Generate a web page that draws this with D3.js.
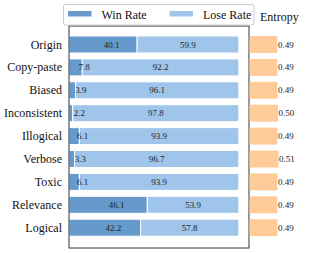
<!DOCTYPE html>
<html>
<head>
  <script src="https://d3js.org/d3.v7.min.js"></script>
  <style>
    body { margin: 0; background: #fff; }
  </style>
</head>
<body>
  <div id="chart"></div>
  <script>
    // data
    const categories = ["Origin", "Copy-paste", "Biased", "Inconsistent", "Illogical", "Verbose", "Toxic", "Relevance", "Logical"];
    const winRate = [40.1, 7.8, 3.9, 2.2, 6.1, 3.3, 6.1, 46.1, 42.2];
    const loseRate = [59.9, 92.2, 96.1, 97.8, 93.9, 96.7, 93.9, 53.9, 57.8];
    const entropy = [0.49, 0.49, 0.49, 0.50, 0.49, 0.51, 0.49, 0.49, 0.49];
    const seriesNames = ["Win Rate", "Lose Rate"];

    const winColor = "#6699cc";
    const loseColor = "#9fc5eb";
    const entColor = "#ffcc99";

    const W = 314, H = 253;
    const svg = d3.select("#chart").append("svg")
      .attr("width", W)
      .attr("height", H)
      .style("font-family", "'Liberation Serif', 'Times New Roman', Times, serif");

    // main axes box
    const boxL = 69, boxR = 249, boxT = 26, boxB = 248;

    const x = d3.scaleLinear().domain([0, 106]).range([boxL, boxR]);
    const y = d3.scaleBand()
      .domain(categories)
      .range([30.1, 242.1])
      .padding(0.258);
    const xe = d3.scaleLinear().domain([0, 1]).range([boxR, boxR + 57]);

    const rows = categories.map((c, i) => ({ c: c, win: winRate[i], lose: loseRate[i], ent: entropy[i] }));

    // win bars
    svg.selectAll(".win").data(rows).enter().append("rect")
      .attr("x", d => x(0))
      .attr("y", d => y(d.c))
      .attr("width", d => x(d.win) - x(0))
      .attr("height", y.bandwidth())
      .attr("fill", winColor)
      .attr("stroke", "#fff")
      .attr("stroke-width", 1);

    // lose bars
    svg.selectAll(".lose").data(rows).enter().append("rect")
      .attr("x", d => x(d.win))
      .attr("y", d => y(d.c))
      .attr("width", d => x(d.win + d.lose) - x(d.win))
      .attr("height", y.bandwidth())
      .attr("fill", loseColor)
      .attr("stroke", "#fff")
      .attr("stroke-width", 1);

    // value labels
    svg.selectAll(".wl").data(rows).enter().append("text")
      .attr("x", d => x(d.win / 2 + 5))
      .attr("y", d => y(d.c) + y.bandwidth() / 2 + 3)
      .attr("text-anchor", "middle")
      .attr("fill", "#222")
      .style("font-size", "9px")
      .text(d => d.win.toFixed(1));

    svg.selectAll(".ll").data(rows).enter().append("text")
      .attr("x", d => x(d.win + d.lose / 2))
      .attr("y", d => y(d.c) + y.bandwidth() / 2 + 3)
      .attr("text-anchor", "middle")
      .attr("fill", "#222")
      .style("font-size", "9px")
      .text(d => d.lose.toFixed(1));

    // category labels
    svg.selectAll(".cat").data(rows).enter().append("text")
      .attr("x", boxL - 7)
      .attr("y", d => y(d.c) + y.bandwidth() / 2 + 4)
      .attr("text-anchor", "end")
      .attr("fill", "#111")
      .style("font-size", "12px")
      .text(d => d.c);

    // frame
    svg.append("rect")
      .attr("x", boxL).attr("y", boxT)
      .attr("width", boxR - boxL).attr("height", boxB - boxT)
      .attr("fill", "none")
      .attr("stroke", "#333")
      .attr("stroke-width", 1);

    // entropy bars
    svg.selectAll(".ent").data(rows).enter().append("rect")
      .attr("x", xe(0) + 0.5)
      .attr("y", d => y(d.c))
      .attr("width", d => xe(d.ent) - xe(0))
      .attr("height", y.bandwidth())
      .attr("fill", entColor);

    svg.selectAll(".el").data(rows).enter().append("text")
      .attr("x", d => xe(d.ent) + 1)
      .attr("y", d => y(d.c) + y.bandwidth() / 2 + 3)
      .attr("fill", "#222")
      .style("font-size", "9px")
      .text(d => d.ent.toFixed(2));

    svg.append("text")
      .attr("x", 260).attr("y", 20.5)
      .attr("fill", "#111")
      .style("font-size", "12px")
      .text("Entropy");

    // legend
    const lg = svg.append("g");
    lg.append("rect")
      .attr("x", 63.5).attr("y", 4.5)
      .attr("width", 190.5).attr("height", 20.5)
      .attr("rx", 2)
      .attr("fill", "#fff").attr("fill-opacity", 0.9)
      .attr("stroke", "#ccc");
    const legendX = [68, 169.5];
    const legendCol = [winColor, loseColor];
    seriesNames.forEach((s, i) => {
      lg.append("rect")
        .attr("x", legendX[i]).attr("y", 11)
        .attr("width", 23.5).attr("height", 5.5)
        .attr("fill", legendCol[i]);
      lg.append("text")
        .attr("x", legendX[i] + 33.5).attr("y", 18.5)
        .attr("fill", "#111")
        .style("font-size", "12px")
        .text(s);
    });
  </script>
</body>
</html>
